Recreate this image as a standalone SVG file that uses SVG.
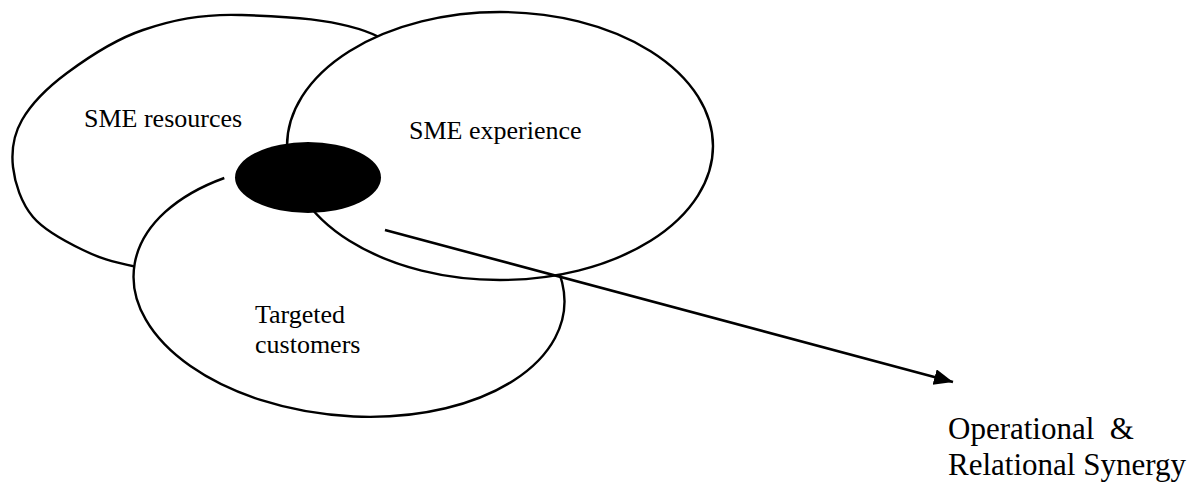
<svg xmlns="http://www.w3.org/2000/svg" width="1200" height="486" viewBox="0 0 1200 486">
  <style>
    .ring { fill: #fff; stroke: #000; stroke-width: 2.4; }
    .fillonly { fill: #fff; stroke: none; }
    .edge { fill: none; stroke: #000; stroke-width: 2.4; }
    .core { fill: #000; stroke: none; }
    .label { font-family: "Liberation Serif", "Times New Roman", serif; font-size: 26px; fill: #000; }
    .outcome { font-family: "Liberation Serif", "Times New Roman", serif; font-size: 31px; fill: #000; white-space: pre; }
    .link { fill: none; stroke: #000; stroke-width: 2.6; }
  </style>
  <defs>
    <marker id="head" markerUnits="userSpaceOnUse" markerWidth="22" markerHeight="18" refX="19" refY="8" orient="auto">
      <path d="M0,0 L19,8 L0,16 Z" fill="#000"/>
    </marker>
  </defs>

  <!-- SME resources circle (lower and right parts sit under the other circles) -->
  <g id="sme-resources">
    <path class="ring" d="M137,267 C109.2,261.2 100.3,258.3 83,250 C65.7,241.7 44.7,230.8 33,217 C21.3,203.2 14.8,183.2 13,167 C11.2,150.8 13,135.7 22,120 C31,104.3 46.8,88 67,73 C87.2,58 114.2,39.7 143,30 C171.8,20.3 200.7,13.8 240,15 C279.3,16.2 340.7,17.8 379,37 C417.3,56.2 466.5,94.5 470,130 C473.5,165.5 436.7,224.2 400,250 C363.3,275.8 293.8,282.2 250,285 C206.2,287.8 164.8,272.8 137,267 Z"/>
    <text class="label" x="84" y="127">SME resources</text>
  </g>

  <!-- Targeted customers circle: white body, outline stops where it meets the core -->
  <g id="targeted-customers">
    <ellipse class="fillonly" cx="349" cy="289" rx="216" ry="127" transform="rotate(5 349 289)"/>
    <path class="edge" d="M224.3,178 A216,127 5 1,0 466.2,188.8"/>
    <text class="label" x="255" y="323">Targeted</text>
    <text class="label" x="255" y="353">customers</text>
  </g>

  <!-- SME experience circle -->
  <g id="sme-experience">
    <ellipse class="ring" cx="500" cy="146" rx="213" ry="134"/>
    <text class="label" x="409" y="139">SME experience</text>
  </g>

  <!-- shared core where the three circles overlap -->
  <g id="core">
    <ellipse class="core" cx="308" cy="177.5" rx="73" ry="35.5"/>
  </g>

  <!-- outcome label -->
  <g id="synergy">
    <text class="outcome" x="948" y="439">Operational  &amp;</text>
    <text class="outcome" x="948" y="475">Relational Synergy</text>
  </g>

  <!-- connectors -->
  <g id="connectors">
    <line class="link" x1="385" y1="230" x2="953" y2="382" marker-end="url(#head)"/>
  </g>
</svg>
